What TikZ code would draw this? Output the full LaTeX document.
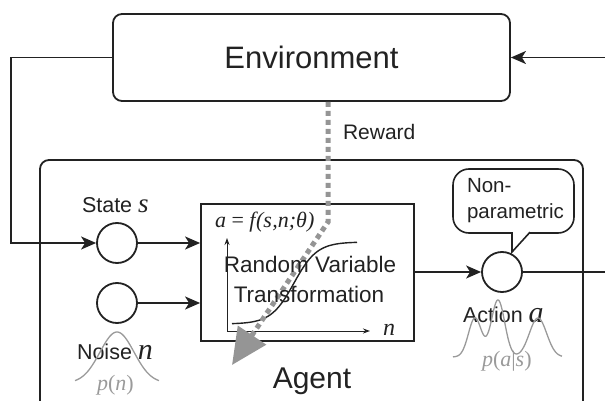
\documentclass[tikz,border=0pt]{standalone}
\usepackage{fontspec}
\setmainfont{Liberation Sans}
\newfontfamily\tms{Liberation Serif}
\usetikzlibrary{arrows.meta,calc}
\definecolor{ink}{HTML}{222222}
\definecolor{softgray}{HTML}{9A9A9A}
\definecolor{rewardgray}{HTML}{959595}

\begin{document}
\begin{tikzpicture}[x=1pt,y=-1pt,
  lbl/.style={inner sep=0pt, outer sep=0pt, text=ink},
  edge/.style={draw=ink, line width=1.8pt},
  flow/.style={draw=ink, line width=1.8pt, -{Stealth[length=15pt,width=13pt,inset=4pt]}},
  unit/.style={circle, draw=ink, line width=1.8pt, minimum size=40pt, inner sep=0pt, fill=white},
  envbox/.style={rectangle, draw=ink, line width=1.8pt, rounded corners=9pt,
    minimum width=397pt, minimum height=87pt, text=ink, font=\fontsize{31}{37}\selectfont},
  tbox/.style={rectangle, draw=ink, line width=1.8pt, fill=white,
    minimum width=213pt, minimum height=137pt},
  bubble/.style={rectangle, draw=ink, line width=1.6pt, rounded corners=16pt, fill=white,
    minimum width=121pt, minimum height=64pt},
  axisline/.style={draw=ink, line width=1pt, -{Stealth[length=7pt,width=5pt]}},
  sigmoid/.style={draw=ink, line width=1.4pt},
  density/.style={draw=softgray, line width=1.3pt},
  reward/.style={draw=rewardgray, line width=5pt, dash pattern=on 5pt off 4pt,
    -{Triangle[length=36pt,width=33pt]}},
  big/.style={font=\fontsize{30}{36}\selectfont},
  mid/.style={font=\fontsize{21.5}{26}\selectfont},
  rvt/.style={font=\fontsize{22.5}{28}\selectfont},
]
\useasboundingbox (0,0) rectangle (605,401);

% environment block
\node[envbox] (env) at (311.5,57.5) {Environment};

% agent frame (runs off the lower edge)
\draw[edge, rounded corners=9pt] (40,401) -- (40,160) -- (583,160) -- (583,401);
\node[lbl, big, anchor=base] (agent) at (312,388) {Agent};

% inputs, transformation and output
\node[unit] (st) at (117,243) {};
\node[unit] (noi) at (117,303) {};
\node[unit] (act) at (502,272) {};
\node[tbox] (tr) at (307.5,272.5) {};

% plot inside the transformation box
\coordinate (org) at (227,331);
\coordinate (ytop) at (227,238);
\coordinate (xend) at (370,331);
\draw[axisline] (org) -- (ytop);
\draw[axisline] (org) -- (xend);
\draw[sigmoid] plot[domain=232:357, samples=70] (\x, {283 - 41*tanh((\x-294)/23)});

% reward signal
\coordinate (rbend) at (328,222);
\coordinate (rtip) at (232,365);
\draw[reward] ([xshift=16.5pt]env.south) -- (rbend) -- (rtip);
\node[lbl, anchor=base west, font=\fontsize{21}{25}\selectfont] (rwd) at (343,140) {Reward};

% texts of the transformation box
\node[lbl, anchor=base west, font=\fontsize{22}{26}\selectfont\tms] (fml) at (215,227)
  {\itshape a \upshape= \itshape f\kern0.5pt(s\kern0.5pt,n;θ)};
\node[lbl, rvt, anchor=base] (rv1) at (310,272) {Random Variable};
\node[lbl, rvt, anchor=base] (rv2) at (309,302) {Transformation};
\node[lbl, anchor=base west, font=\fontsize{24}{28}\selectfont\tms\itshape] (nax) at (383,335) {n};

% connectors
\draw[flow] (env.west) -- ++(-101,0) |- (st.west);
\coordinate (rin) at (605,57.5);
\draw[flow] (rin) -- (env.east);
\draw[flow] (st.east) -- (st.east -| tr.west);
\draw[flow] (noi.east) -- (noi.east -| tr.west);
\draw[flow] (tr.east |- act.west) -- (act.west);
\coordinate (aout) at (605,272);
\draw[edge] (act.east) -- (aout);

% labels of the circles
\node[lbl, mid, anchor=base west] (stl) at (82,212)
  {State {\fontsize{27}{30}\selectfont\tms\itshape s}};
\node[lbl, mid, anchor=base west] (nol) at (77,359)
  {Noise {\fontsize{30}{30}\selectfont\tms\itshape n}};
\node[lbl, mid, anchor=base west] (acl) at (463,322)
  {Action {\fontsize{30}{30}\selectfont\tms\itshape a}};

% densities
\draw[density] plot[domain=75:159, samples=70] (\x, {383 - 51*exp(-((\x-117)^2)/578)});
\node[lbl, text=softgray, anchor=base west, font=\fontsize{22}{26}\selectfont\tms] (pn) at (97,390)
  {\itshape p\upshape(\itshape n\upshape)};
\draw[density] plot[domain=453:562, samples=160]
  (\x, {357 - 39*exp(-((\x-475)^2)/85) - 57*exp(-((\x-498)^2)/90) - 39*exp(-((\x-538)^2)/150)});
\node[lbl, text=softgray, anchor=base west, font=\fontsize{22}{26}\selectfont\tms] (pas) at (482,366)
  {\itshape p\upshape(\itshape a\upshape|\itshape s\upshape)};

% speech bubble
\node[bubble] (bub) at (513.5,201) {};
\fill[white] (513,230.5) rectangle (529,235.5);
\draw[draw=ink, line width=1.6pt, line join=miter] (512,232.2) -- (512,252) -- (530,232.2);
\node[lbl, anchor=base west, font=\fontsize{20.5}{24}\selectfont] (np1) at (467,193) {Non-};
\node[lbl, anchor=base west, font=\fontsize{20.5}{24}\selectfont] (np2) at (467,218) {parametric};
\end{tikzpicture}
\end{document}
